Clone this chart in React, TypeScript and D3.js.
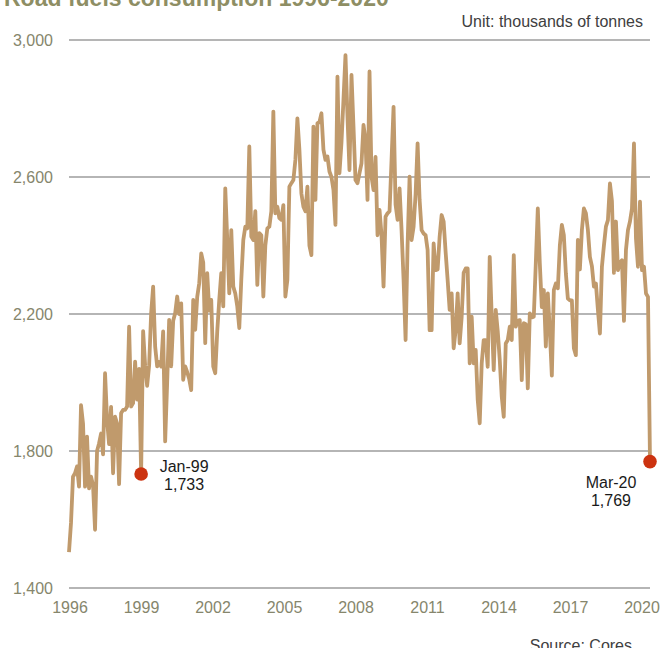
import { useEffect, useRef } from "react"
import * as d3 from "d3";

// monthly road fuels consumption, Jan-96 .. Mar-20 (thousands of tonnes)
const consumption = [
    1505, 1590, 1725, 1735, 1755, 1696, 1934, 1880, 1696, 1842, 1691, 1725, // 1996
    1700, 1570, 1800, 1822, 1851, 1790, 2027, 1890, 1820, 1929, 1735, 1900, // 1997
    1880, 1703, 1910, 1920, 1920, 1930, 2163, 1930, 1940, 2061, 1950, 2040, // 1998
    1733, 2150, 2050, 1990, 2050, 2202, 2280, 2105, 2047, 2060, 2047, 2149, // 1999
    1828, 2000, 2183, 2047, 2180, 2202, 2251, 2200, 2231, 2008, 2047, 2030, // 2000
    2010, 1978, 2241, 2154, 2250, 2290, 2377, 2350, 2115, 2319, 2210, 2241, // 2001
    2047, 2027, 2150, 2241, 2319, 2222, 2567, 2416, 2260, 2445, 2280, 2260, // 2002
    2222, 2159, 2300, 2416, 2455, 2450, 2689, 2426, 2416, 2500, 2285, 2436, // 2003
    2430, 2251, 2400, 2450, 2455, 2500, 2791, 2494, 2513, 2480, 2475, 2518, // 2004
    2251, 2300, 2572, 2582, 2591, 2650, 2771, 2680, 2552, 2513, 2500, 2572, // 2005
    2400, 2372, 2747, 2533, 2757, 2760, 2786, 2680, 2650, 2660, 2616, 2600, // 2006
    2562, 2460, 2893, 2611, 2700, 2825, 2956, 2776, 2620, 2898, 2747, 2591, // 2007
    2582, 2611, 2640, 2752, 2708, 2533, 2908, 2601, 2562, 2659, 2430, 2504, // 2008
    2430, 2280, 2484, 2494, 2500, 2650, 2805, 2520, 2475, 2567, 2445, 2300, // 2009
    2124, 2400, 2601, 2416, 2455, 2550, 2698, 2533, 2445, 2435, 2430, 2387, // 2010
    2153, 2153, 2406, 2328, 2330, 2426, 2489, 2470, 2380, 2299, 2212, 2260, // 2011
    2100, 2153, 2260, 2114, 2192, 2320, 2333, 2333, 2056, 2192, 2056, 2095, // 2012
    1950, 1881, 2056, 2124, 2124, 2046, 2367, 2192, 2036, 2212, 2150, 2066, // 2013
    1959, 1900, 2114, 2124, 2163, 2124, 2372, 2163, 2180, 2182, 2007, 2173, // 2014
    2170, 1983, 2202, 2190, 2192, 2348, 2508, 2348, 2220, 2270, 2105, 2260, // 2015
    2150, 2020, 2270, 2289, 2275, 2400, 2460, 2430, 2319, 2245, 2240, 2240, // 2016
    2100, 2080, 2416, 2330, 2445, 2508, 2494, 2445, 2367, 2340, 2280, 2289, // 2017
    2212, 2143, 2338, 2400, 2455, 2474, 2581, 2530, 2320, 2470, 2328, 2350, // 2018
    2357, 2180, 2387, 2445, 2470, 2508, 2698, 2420, 2338, 2528, 2328, 2338, // 2019
    2260, 2250, 1769                                                         // 2020
];

const yearTicks = [1996, 1999, 2002, 2005, 2008, 2011, 2014, 2017, 2020];
const valueTicks = [1400, 1800, 2200, 2600, 3000];

// highlighted points: month index from Jan-96
const callouts = [
    { month: 36, label: "Jan-99" },
    { month: 290, label: "Mar-20" },
];

const FONT = "'Liberation Sans', Arial, sans-serif";

export default function App() {

    const svgRef = useRef(null);
    const width = 666;
    const height = 648;

    useEffect(() => {
        const svg = d3.select(svgRef.current);
        svg.selectAll("*").remove();

        const left = 69, right = 650, top = 40, bottom = 588;

        const x = d3.scaleLinear().domain([0, consumption.length - 1]).range([left, right]);
        const y = d3.scaleLinear().domain([1400, 3000]).range([bottom, top]);
        // year labels are spread evenly, last one kept inside the frame
        const xYear = d3.scaleLinear().domain([1996, 2020]).range([left + 1, 642]);

        // title (cropped at the top of the picture)
        svg.append("text")
            .attr("x", 4)
            .attr("y", 6)
            .style("font-family", FONT)
            .style("font-size", "23px")
            .style("font-weight", "700")
            .style("fill", "#8e8e64")
            .text("Road fuels consumption 1996-2020");

        svg.append("text")
            .attr("x", 643)
            .attr("y", 27)
            .attr("text-anchor", "end")
            .style("font-family", FONT)
            .style("font-size", "16px")
            .style("fill", "#404040")
            .text("Unit: thousands of tonnes");

        // gridlines + value labels
        const grid = svg.append("g");
        grid.selectAll("line")
            .data(valueTicks)
            .join("line")
            .attr("x1", left)
            .attr("x2", right)
            .attr("y1", d => y(d))
            .attr("y2", d => y(d))
            .style("stroke", "#9c9c9c")
            .style("stroke-width", 1.3);

        grid.selectAll("text")
            .data(valueTicks)
            .join("text")
            .attr("x", 53)
            .attr("y", d => y(d))
            .attr("dy", "0.35em")
            .attr("text-anchor", "end")
            .style("font-family", FONT)
            .style("font-size", "16px")
            .style("fill", "#86866c")
            .text(d => d3.format(",")(d));

        svg.append("g")
            .selectAll("text")
            .data(yearTicks)
            .join("text")
            .attr("x", d => xYear(d))
            .attr("y", 613)
            .attr("text-anchor", "middle")
            .style("font-family", FONT)
            .style("font-size", "16px")
            .style("fill", "#86866c")
            .text(d => d);

        // the series
        const line = d3.line<number>()
            .x((_, i) => x(i))
            .y(d => y(d));

        svg.append("path")
            .datum(consumption)
            .attr("d", line)
            .style("fill", "none")
            .style("stroke", "#c09a6c")
            .style("stroke-width", 3.8)
            .style("stroke-linejoin", "round");

        // callouts
        const c = svg.append("g")
            .selectAll("g")
            .data(callouts)
            .join("g");

        c.append("circle")
            .attr("cx", d => x(d.month))
            .attr("cy", d => y(consumption[d.month]))
            .attr("r", 6.8)
            .style("fill", "#cc3310");

        // Jan-99 text sits right of its dot, Mar-20 below-left
        const labelX = (d: { month: number }) => d.month === 36 ? x(d.month) + 43 : x(d.month) - 39;
        const labelY = (d: { month: number }) => d.month === 36 ? y(consumption[d.month]) - 2 : y(consumption[d.month]) + 26;

        c.append("text")
            .attr("x", labelX)
            .attr("y", labelY)
            .attr("text-anchor", "middle")
            .style("font-family", FONT)
            .style("font-size", "16px")
            .style("fill", "#1a1a1a")
            .text(d => d.label);

        c.append("text")
            .attr("x", labelX)
            .attr("y", d => labelY(d) + 18)
            .attr("text-anchor", "middle")
            .style("font-family", FONT)
            .style("font-size", "16px")
            .style("fill", "#1a1a1a")
            .text(d => d3.format(",")(consumption[d.month]));

        // source (cropped at the bottom)
        svg.append("text")
            .attr("x", 632)
            .attr("y", 651)
            .attr("text-anchor", "end")
            .style("font-family", FONT)
            .style("font-size", "16px")
            .style("fill", "#404040")
            .text("Source: Cores");

    }, []);

    return (
        <svg
            ref={svgRef}
            width={width}
            height={height}
            style={{ position: "absolute", left: 0, top: 0, background: "#ffffff" }}
        ></svg>
    )
}
